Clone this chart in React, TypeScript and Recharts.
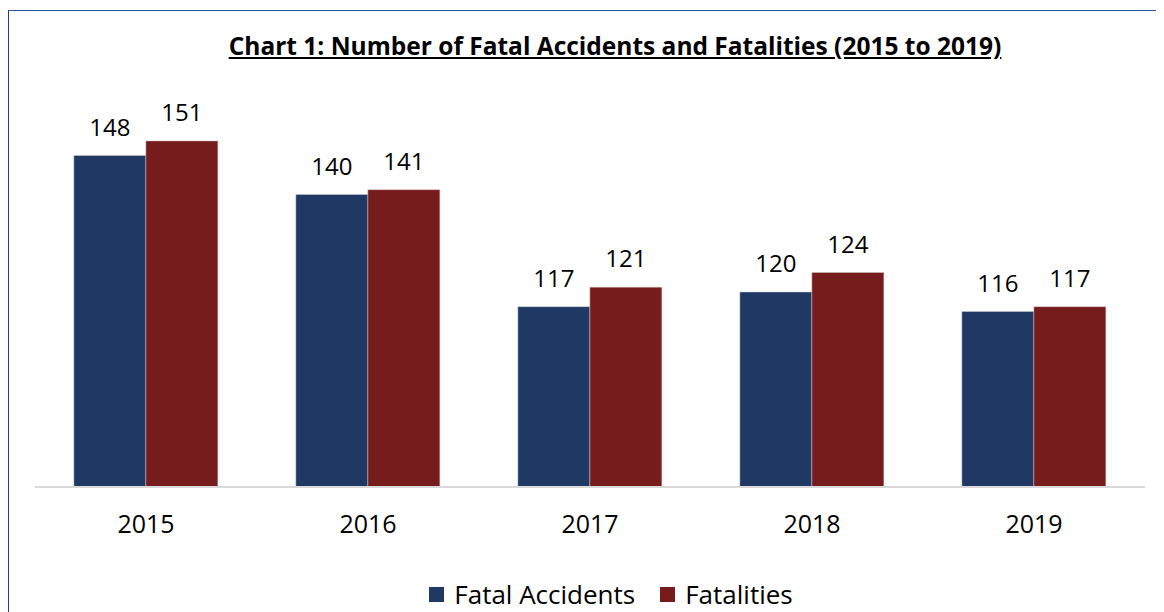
import React from 'react';
import { BarChart, Bar, XAxis, YAxis, LabelList, Legend } from 'recharts';

const years = ['2015', '2016', '2017', '2018', '2019'];
const fatalAccidents = [148, 140, 117, 120, 116];
const fatalities = [151, 141, 121, 124, 117];

const BLUE = '#203864';
const RED = '#771c1c';
const FONT = '"Open Sans", "Noto Sans", sans-serif';

const data = years.map((year, i) => ({
  year,
  accidents: fatalAccidents[i],
  fatalities: fatalities[i],
}));

const legendItems = [
  { label: 'Fatal Accidents', color: BLUE },
  { label: 'Fatalities', color: RED },
];

const renderLegend = () => (
  <div style={{ display: 'flex', justifyContent: 'center', gap: 25, fontFamily: FONT, fontSize: 26, color: '#000', lineHeight: '34px' }}>
    {legendItems.map((item) => (
      <div key={item.label} style={{ display: 'flex', alignItems: 'center' }}>
        <span style={{ width: 15, height: 15, background: item.color, marginRight: 10, display: 'inline-block' }} />
        <span>{item.label}</span>
      </div>
    ))}
  </div>
);

export default function App() {
  return (
    <div style={{ position: 'relative', width: 1156, height: 604, fontFamily: FONT, overflow: 'hidden' }}>
      <div
        style={{
          position: 'absolute',
          left: 0,
          top: 2,
          width: 1200,
          height: 700,
          borderTop: '1.5px solid #2f5597',
          borderLeft: '1.5px solid #1f3f7f',
        }}
      />
      <div
        style={{
          position: 'absolute',
          top: 21,
          left: 0,
          width: 1214,
          textAlign: 'center',
          fontSize: 24.5,
          fontWeight: 700,
          textDecoration: 'underline',
          color: '#000',
        }}
      >
        Chart 1: Number of Fatal Accidents and Fatalities (2015 to 2019)
      </div>
      <BarChart
        width={1156}
        height={604}
        data={data}
        margin={{ top: 89, right: 19, bottom: 0, left: 27 }}
        barCategoryGap="17.5%"
        barGap={0}
      >
        <XAxis
          dataKey="year"
          axisLine={{ stroke: '#d9d9d9', strokeWidth: 2 }}
          tickLine={false}
          tickMargin={22}
          height={91}
          tick={{ fill: '#000', fontSize: 25, fontFamily: FONT }}
        />
        <YAxis hide domain={[80, 160]} allowDataOverflow />
        <Legend
          content={renderLegend}
          verticalAlign="bottom"
          wrapperStyle={{ position: 'absolute', top: 569, left: 0, width: 1206 }}
        />
        <Bar dataKey="accidents" fill={BLUE} stroke="#c9ced8" strokeWidth={0.5} isAnimationActive={false}>
          <LabelList dataKey="accidents" position="top" offset={20} fill="#000" fontSize={24} fontFamily={FONT} />
        </Bar>
        <Bar dataKey="fatalities" fill={RED} stroke="#d8c4c4" strokeWidth={0.5} isAnimationActive={false}>
          <LabelList dataKey="fatalities" position="top" offset={20} fill="#000" fontSize={24} fontFamily={FONT} />
        </Bar>
      </BarChart>
    </div>
  );
}
